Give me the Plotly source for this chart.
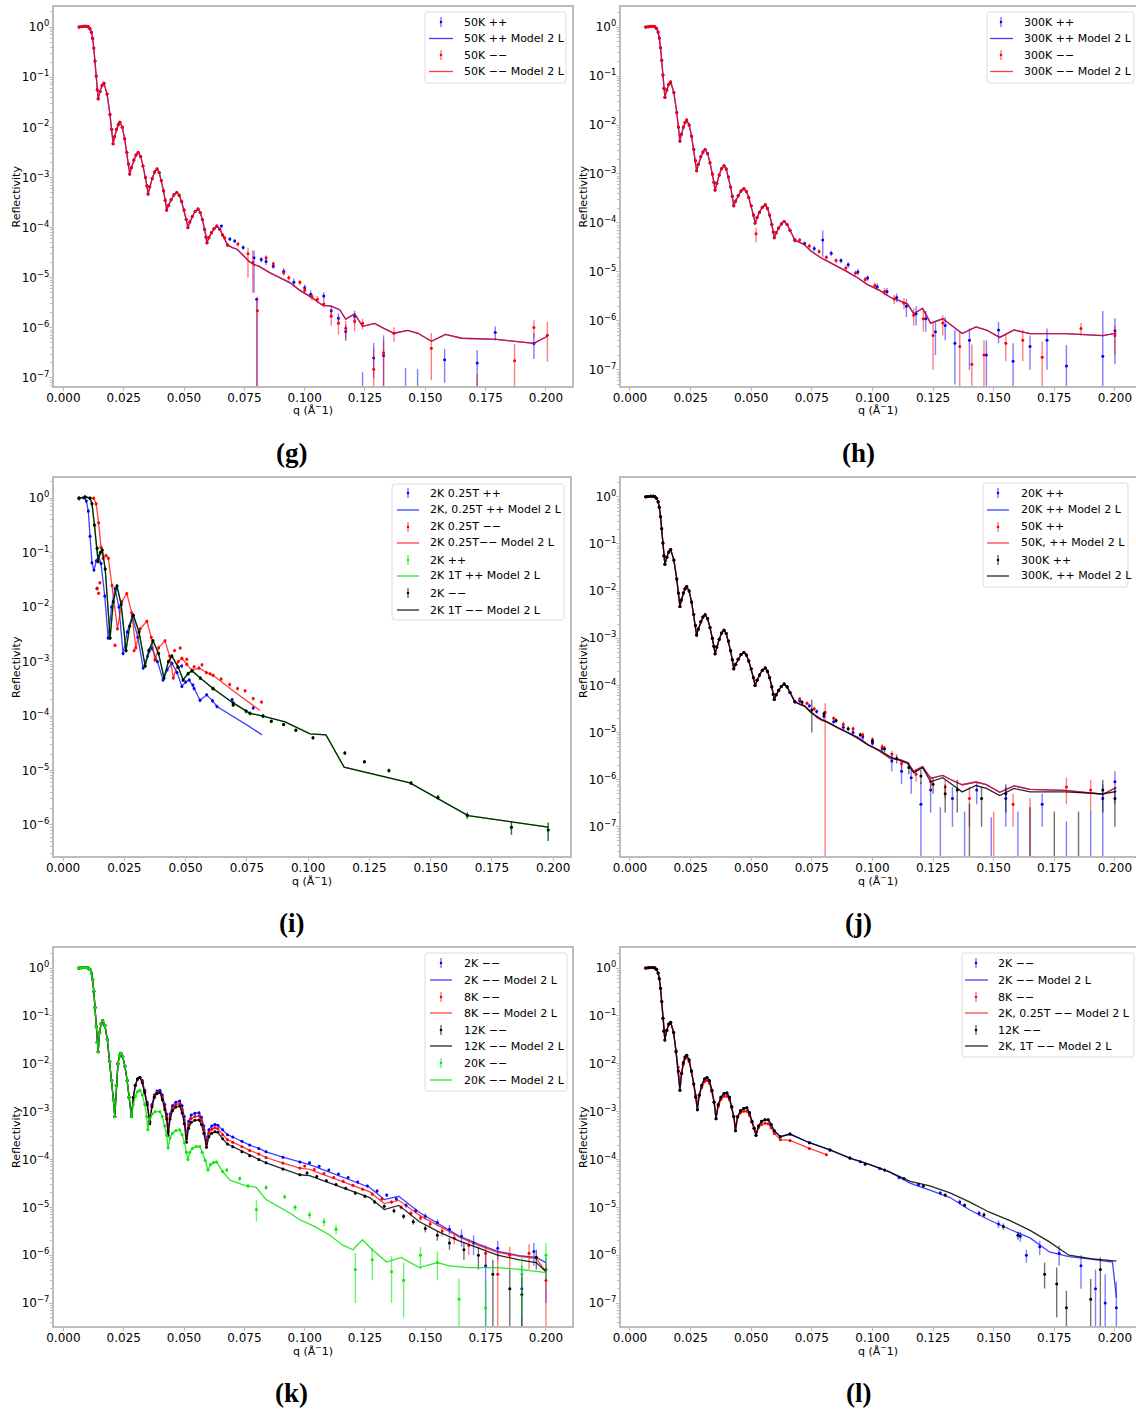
import plotly.graph_objects as go

W, H = 1136, 1410

# ----------------------------------------------------------------- (g) 50K  (also base of h, j)
q_fit = [0.0065, 0.0075, 0.0085, 0.0095, 0.0103, 0.0110, 0.0116, 0.0121, 0.0126, 0.0131,
         0.0136, 0.0140, 0.0144, 0.0152, 0.0160, 0.0168, 0.0181, 0.0193, 0.0200, 0.0206,
         0.0212, 0.0220, 0.0227, 0.0234, 0.0244, 0.0254, 0.0263, 0.0270, 0.0275, 0.0282,
         0.0292, 0.0301, 0.0310, 0.0320, 0.0330, 0.0340, 0.0346, 0.0351, 0.0358, 0.0368,
         0.0378, 0.0388, 0.0397, 0.0406, 0.0415, 0.0422, 0.0428, 0.0436, 0.0446, 0.0458,
         0.0470, 0.0480, 0.0490, 0.0500, 0.0509, 0.0516, 0.0524, 0.0534, 0.0546, 0.0558,
         0.0567, 0.0576, 0.0585, 0.0591, 0.0595, 0.0603, 0.0613, 0.0624, 0.0636, 0.0648,
         0.0660, 0.0680, 0.0700, 0.0720, 0.0745, 0.0770, 0.0790, 0.0810,
         0.0855, 0.0897, 0.0940, 0.0980, 0.1030, 0.1075, 0.1110, 0.1145, 0.1170, 0.1207,
         0.1240, 0.1290, 0.1320, 0.1370, 0.1427, 0.1470, 0.1525, 0.1584, 0.1650, 0.1795,
         0.1950, 0.2006]
g_fit = [1.0, 1.02, 1.035, 1.035, 1.01, 0.93, 0.79, 0.60, 0.38, 0.21,
         0.105, 0.056, 0.037, 0.052, 0.068, 0.076, 0.046, 0.018, 0.0091, 0.0047,
         0.0065, 0.0091, 0.0112, 0.0126, 0.0100, 0.0059, 0.0032, 0.00186, 0.00117, 0.00158,
         0.00224, 0.00282, 0.00316, 0.00263, 0.0017, 0.0010, 6.8e-4, 4.7e-4, 6.5e-4, 9.5e-4,
         1.29e-3, 1.48e-3, 1.26e-3, 8.7e-4, 5.4e-4, 3.5e-4, 2.24e-4, 2.8e-4, 3.6e-4, 4.5e-4,
         5.0e-4, 4.4e-4, 3.3e-4, 2.24e-4, 1.45e-4, 1.0e-4, 1.29e-4, 1.66e-4, 2.1e-4, 2.34e-4,
         2.0e-4, 1.45e-4, 9.3e-5, 6.5e-5, 5.0e-5, 6.3e-5, 7.9e-5, 9.5e-5, 1.07e-4, 9.3e-5,
         7.1e-5, 4.5e-5, 4.0e-5, 3.7e-5, 2.8e-5, 2.1e-5, 1.82e-5, 1.7e-5,
         1.26e-5, 1.0e-5, 7.9e-6, 5.6e-6, 4.0e-6, 2.8e-6, 2.7e-6, 2.3e-6, 1.5e-6, 1.9e-6,
         1.07e-6, 1.23e-6, 1.02e-6, 7.8e-7, 8.9e-7, 7.8e-7, 5.4e-7, 7.4e-7, 6.2e-7, 5.9e-7,
         4.9e-7, 6.8e-7]

g_q_pp_hi = [0.0655, 0.069, 0.071, 0.0745, 0.079, 0.0801, 0.082, 0.084, 0.087, 0.0913,
             0.0955, 0.100, 0.1025, 0.1079, 0.111, 0.114, 0.117, 0.1207, 0.124, 0.1286,
             0.1327, 0.1418, 0.1468, 0.158, 0.1715, 0.179, 0.195]
g_R_pp_hi = [1.07e-4, 5.9e-5, 5.4e-5, 4.0e-5, 2.5e-5, 3.7e-6, 2.3e-5, 2.1e-5, 1.7e-5, 1.35e-5,
             8.1e-6, 6.3e-6, 4.7e-6, 4.3e-6, 2.2e-6, 1.55e-6, 8.5e-7, 1.7e-6, 5e-8, 2.5e-7,
             2.8e-7, 5e-8, 5e-8, 2.3e-7, 2.0e-7, 8.1e-7, 4.9e-7]
g_up_pp_hi = [8e-6, 5e-6, 5e-6, 4e-6, 1.0e-5, 0, 3e-6, 3e-6, 2e-6, 2e-6,
              1.5e-6, 1e-6, 8e-7, 8e-7, 5e-7, 4e-7, 3e-7, 5e-7, 8e-8, 2.5e-7,
              4.3e-7, 1.1e-7, 1.0e-7, 1.5e-7, 1.6e-7, 2.5e-7, 3e-7]
g_dn_pp_hi = [8e-6, 5e-6, 5e-6, 4e-6, 2.0e-5, 3.69e-6, 3e-6, 3e-6, 2e-6, 2e-6,
              1.5e-6, 1e-6, 8e-7, 8e-7, 5e-7, 4e-7, 3e-7, 5e-7, 4.9e-8, 1.5e-7,
              2.79e-7, 4.9e-8, 4.9e-8, 1.5e-7, 1.5e-7, 2.5e-7, 2.5e-7]

g_q_mm_hi = [0.0668, 0.0723, 0.0765, 0.0785, 0.0804, 0.084, 0.087, 0.0913, 0.0934, 0.098,
             0.100, 0.103, 0.1053, 0.1079, 0.111, 0.114, 0.117, 0.1207, 0.124, 0.1286,
             0.1327, 0.137, 0.1525, 0.1715, 0.187, 0.195, 0.2006]
g_R_mm_hi = [6.3e-5, 4.7e-5, 3.0e-5, 2.0e-5, 2.2e-6, 2.5e-5, 1.9e-5, 1.26e-5, 1.0e-5, 8.1e-6,
             5.6e-6, 4.2e-6, 3.7e-6, 3.0e-6, 1.7e-6, 1.23e-6, 9.8e-7, 1.35e-6, 1.23e-6, 1.5e-7,
             3.2e-7, 7.8e-7, 3.9e-7, 5e-8, 2.2e-7, 1.02e-6, 7.1e-7]
g_up_mm_hi = [6e-6, 5e-6, 1.0e-5, 1.5e-5, 2e-6, 3e-6, 2e-6, 1.5e-6, 1.2e-6, 1e-6,
              8e-7, 7e-7, 6e-7, 5e-7, 6e-7, 5e-7, 4e-7, 5e-7, 3e-7, 2.4e-7,
              2.4e-7, 2.5e-7, 4e-7, 7e-8, 2.5e-7, 4e-7, 6e-7]
g_dn_mm_hi = [6e-6, 5e-6, 2.0e-5, 1.5e-5, 2.19e-6, 3e-6, 2e-6, 1.5e-6, 1.2e-6, 1e-6,
              8e-7, 7e-7, 6e-7, 5e-7, 6e-7, 5e-7, 4e-7, 5e-7, 3e-7, 1.49e-7,
              3.19e-7, 2.5e-7, 3e-7, 4.9e-8, 2.19e-7, 4e-7, 5e-7]

# ----------------------------------------------------------------- (h) 300K
h_fit = g_fit[:73] + [3.6e-5, 2.7e-5, 2.2e-5, 1.9e-5, 1.7e-5,
                      1.3e-5, 1.0e-5, 7.5e-6, 5.5e-6, 4.2e-6, 3.0e-6, 2.6e-6, 2.2e-6, 1.4e-6, 1.8e-6,
                      9.0e-7, 1.1e-6, 8.5e-7, 5.5e-7, 7.5e-7, 6.5e-7, 4.6e-7, 6.5e-7, 5.5e-7, 5.5e-7,
                      5.0e-7, 5.6e-7]

h_q_pp_hi = [0.068, 0.072, 0.076, 0.0795, 0.083, 0.087, 0.090, 0.094, 0.098, 0.102,
             0.106, 0.110, 0.114, 0.118, 0.122, 0.126, 0.130, 0.134, 0.140, 0.147,
             0.152, 0.158, 0.165, 0.172, 0.180, 0.195, 0.200]
h_R_pp_hi = [4.5e-5, 3.8e-5, 3.0e-5, 4.5e-5, 2.4e-5, 1.7e-5, 1.4e-5, 1.0e-5, 7.5e-6, 5.0e-6,
             4.0e-6, 3.0e-6, 2.0e-6, 1.4e-6, 1.1e-6, 6e-7, 8e-7, 3.5e-7, 4e-7, 2e-7,
             6.5e-7, 1.5e-7, 3e-7, 4e-7, 1.2e-7, 1.9e-7, 6.3e-7]
h_up_pp_hi = [5e-6, 4e-6, 4e-6, 2.5e-5, 3e-6, 2e-6, 2e-6, 1.5e-6, 1e-6, 8e-7,
              7e-7, 6e-7, 8e-7, 6e-7, 5e-7, 4e-7, 4e-7, 3e-7, 3e-7, 2e-7,
              3e-7, 2e-7, 2e-7, 3e-7, 2e-7, 1.4e-6, 5e-7]
h_dn_pp_hi = [5e-6, 4e-6, 4e-6, 2.5e-5, 3e-6, 2e-6, 2e-6, 1.5e-6, 1e-6, 8e-7,
              7e-7, 6e-7, 8e-7, 6e-7, 5e-7, 4e-7, 4e-7, 3e-7, 3e-7, 1.99e-7,
              3e-7, 1.49e-7, 2e-7, 3e-7, 1.19e-7, 1.89e-7, 5e-7]

h_q_mm_hi = [0.052, 0.070, 0.074, 0.078, 0.081, 0.085, 0.089, 0.093, 0.097, 0.101,
             0.105, 0.109, 0.113, 0.117, 0.121, 0.125, 0.129, 0.136, 0.141, 0.146,
             0.155, 0.162, 0.170, 0.186, 0.200]
h_R_mm_hi = [6e-5, 4.5e-5, 3.4e-5, 2.6e-5, 2.0e-5, 1.7e-5, 1.2e-5, 9.5e-6, 7e-6, 5.3e-6,
             4e-6, 2.8e-6, 2.3e-6, 1.3e-6, 1.1e-6, 5e-7, 9e-7, 3e-7, 1.3e-7, 2e-7,
             3.5e-7, 4e-7, 1.8e-7, 7e-7, 5e-7]
h_up_mm_hi = [2e-5, 5e-6, 4e-6, 3e-6, 2e-6, 2e-6, 1.5e-6, 1.2e-6, 1e-6, 8e-7,
              7e-7, 6e-7, 6e-7, 5e-7, 5e-7, 4e-7, 4e-7, 3e-7, 2e-7, 2e-7,
              2e-7, 2.5e-7, 2e-7, 2e-7, 3e-7]
h_dn_mm_hi = [2e-5, 5e-6, 4e-6, 3e-6, 2e-6, 2e-6, 1.5e-6, 1.2e-6, 1e-6, 8e-7,
              7e-7, 6e-7, 6e-7, 5e-7, 5e-7, 4e-7, 4e-7, 2.99e-7, 1.29e-7, 1.99e-7,
              2e-7, 2.5e-7, 1.79e-7, 2e-7, 3e-7]

# ----------------------------------------------------------------- (i) 2K fields
i_q_fit_b = [0.0065, 0.0085, 0.0095, 0.0103, 0.0110, 0.0118, 0.0126, 0.0136, 0.0145, 0.0155,
             0.0170, 0.0184, 0.0198, 0.0212, 0.0228, 0.0245, 0.0262, 0.0282, 0.0305, 0.0327,
             0.0345, 0.0362, 0.0385, 0.0408, 0.0425, 0.0444, 0.0465, 0.0485, 0.0500, 0.0515,
             0.0535, 0.0559, 0.0586, 0.0610, 0.0628, 0.0694, 0.0756, 0.0812]
i_fit_b = [1.0, 1.02, 0.89, 0.58, 0.20, 0.065, 0.048, 0.071, 0.087, 0.063,
           0.016, 0.0027, 0.010, 0.022, 0.010, 0.0014, 0.0035, 0.0069, 0.0028, 7.6e-4,
           1.26e-3, 1.78e-3, 1.0e-3, 4.6e-4, 7.1e-4, 9.3e-4, 6.3e-4, 3.5e-4, 4.2e-4, 4.6e-4,
           3.2e-4, 1.95e-4, 2.45e-4, 1.9e-4, 1.5e-4, 1.0e-4, 6.6e-5, 4.5e-5]

i_q_fit_r = [0.0065, 0.0090, 0.0125, 0.0135, 0.0145, 0.0155, 0.0163, 0.0175, 0.0185, 0.0200,
             0.0222, 0.0240, 0.0260, 0.0280, 0.0297, 0.0315, 0.0342, 0.0360, 0.0375, 0.0390,
             0.0416, 0.0435, 0.0450, 0.0470, 0.0485, 0.0505, 0.0526, 0.0555, 0.0585, 0.0612,
             0.0694, 0.0804]
i_fit_r = [1.0, 1.05, 1.0, 0.79, 0.355, 0.126, 0.079, 0.089, 0.079, 0.025,
           0.004, 0.0126, 0.0178, 0.0079, 0.0018, 0.004, 0.0055, 0.0028, 0.00107, 0.0018,
           0.0024, 0.00126, 5.0e-4, 1.0e-3, 1.15e-3, 8.9e-4, 6.9e-4, 7.6e-4, 6.3e-4, 5.6e-4,
           2.9e-4, 1.26e-4]

i_q_fit_k = [0.0065, 0.0090, 0.0110, 0.0118, 0.0128, 0.0139, 0.0143, 0.0152, 0.0160, 0.0172,
             0.0192, 0.0205, 0.0220, 0.0237, 0.0257, 0.0272, 0.0287, 0.0310, 0.0335, 0.0350,
             0.0367, 0.0390, 0.0412, 0.0430, 0.0444, 0.0470, 0.0490, 0.0510, 0.0526, 0.0560,
             0.0612, 0.0694, 0.0763, 0.0816, 0.0906, 0.1008, 0.1073, 0.1147, 0.1416, 0.1653,
             0.1980]
i_fit_k = [1.0, 1.05, 1.0, 0.79, 0.32, 0.12, 0.069, 0.10, 0.112, 0.050,
           0.0027, 0.0126, 0.0245, 0.0112, 0.0016, 0.0045, 0.0071, 0.0035, 8.3e-4, 1.6e-3,
           2.4e-3, 1.4e-3, 5.0e-4, 1.0e-3, 1.26e-3, 7.9e-4, 4.6e-4, 6.0e-4, 6.8e-4, 5.0e-4,
           3.2e-4, 1.74e-4, 1.12e-4, 1.0e-4, 7.8e-5, 4.7e-5, 4.5e-5, 1.15e-5, 5.9e-6, 1.48e-6,
           9.1e-7]
i_fit_g = i_fit_k

i_q_b_hi = [0.0138, 0.0484, 0.053, 0.0612, 0.069, 0.0776, 0.0816]
i_R_b_hi = [0.022, 8.3e-4, 3.7e-4, 3.2e-4, 2.0e-4, 1.4e-4, 1.0e-4]

i_q_r_hi = [0.0140, 0.0145, 0.0150, 0.0212, 0.029, 0.0376, 0.0455, 0.0478, 0.0505, 0.0535,
            0.0567, 0.0600, 0.0645, 0.0680, 0.0712, 0.0743, 0.0776, 0.0810]
i_R_r_hi = [0.022, 0.018, 0.028, 0.002, 0.0016, 0.0011, 1.6e-3, 1.78e-3, 1.1e-3, 8e-4,
            8.7e-4, 6e-4, 4.8e-4, 3.8e-4, 3.2e-4, 2.9e-4, 2.1e-4, 1.8e-4]

i_q_k_hi = [0.0694, 0.0747, 0.085, 0.090, 0.095, 0.102, 0.115, 0.123, 0.133, 0.142,
            0.153, 0.165, 0.183, 0.198]
i_R_k_hi = [1.6e-4, 1.23e-4, 8e-5, 7e-5, 5.5e-5, 4.0e-5, 2.1e-5, 1.45e-5, 1.0e-5, 5.9e-6,
            3.2e-6, 1.5e-6, 9.1e-7, 8.1e-7]
i_err_k_hi = [1.2e-5, 1e-5, 6e-6, 5e-6, 4e-6, 3e-6, 1.5e-6, 1e-6, 8e-7, 5e-7,
              3e-7, 2e-7, 2.5e-7, 3e-7]

# ----------------------------------------------------------------- (j) ++ temperatures
j_fit_b = g_fit
j_fit_r = g_fit
j_fit_k = h_fit

j_q_b_hi = [0.070, 0.074, 0.077, 0.080, 0.084, 0.088, 0.092, 0.096, 0.100, 0.104,
            0.108, 0.112, 0.116, 0.120, 0.124, 0.128, 0.133, 0.138, 0.143, 0.149,
            0.155, 0.160, 0.170, 0.180, 0.190, 0.195, 0.200]
j_R_b_hi = [4.7e-5, 3.7e-5, 2.8e-5, 2.2e-5, 1.7e-5, 1.3e-5, 1.0e-5, 8e-6, 6e-6, 4.5e-6,
            2.5e-6, 1.5e-6, 1.1e-6, 3e-7, 6e-7, 1e-8, 4e-7, 1e-8, 6e-7, 1e-8,
            4e-7, 1e-8, 3e-7, 1e-8, 1e-8, 4e-7, 9e-7]
j_up_b_hi = [5e-6, 4e-6, 3e-6, 3e-6, 2e-6, 2e-6, 1.5e-6, 1.2e-6, 1e-6, 8e-7,
             1e-6, 7e-7, 6e-7, 6e-7, 4e-7, 2.5e-7, 3e-7, 2e-7, 3e-7, 1.5e-7,
             3e-7, 2e-7, 2e-7, 1.2e-7, 2e-7, 4e-7, 6e-7]
j_dn_b_hi = [5e-6, 4e-6, 3e-6, 3e-6, 2e-6, 2e-6, 1.5e-6, 1.2e-6, 1e-6, 8e-7,
             1e-6, 7e-7, 6e-7, 2.99e-7, 4e-7, 9e-9, 3e-7, 9e-9, 3e-7, 9e-9,
             3e-7, 9e-9, 2e-7, 9e-9, 9e-9, 3.99e-7, 6e-7]

j_q_r_hi = [0.070, 0.073, 0.076, 0.0805, 0.084, 0.088, 0.092, 0.096, 0.100, 0.104,
            0.108, 0.112, 0.118, 0.124, 0.130, 0.140, 0.150, 0.158, 0.165, 0.180,
            0.190]
j_R_r_hi = [5.2e-5, 4.2e-5, 3.2e-5, 2.7e-5, 2.0e-5, 1.5e-5, 1.2e-5, 9e-6, 7e-6, 5e-6,
            3.5e-6, 2.2e-6, 1.3e-6, 9e-7, 7e-7, 4e-7, 1e-8, 3e-7, 1e-8, 7e-7,
            6e-7]
j_up_r_hi = [5e-6, 4e-6, 3e-6, 1.5e-5, 2e-6, 2e-6, 1.5e-6, 1e-6, 1e-6, 8e-7,
             6e-7, 5e-7, 4e-7, 3e-7, 3e-7, 3e-7, 2e-7, 2e-7, 4e-7, 4e-7,
             4e-7]
j_dn_r_hi = [5e-6, 4e-6, 3e-6, 2.699e-5, 2e-6, 2e-6, 1.5e-6, 1e-6, 1e-6, 8e-7,
             6e-7, 5e-7, 4e-7, 3e-7, 3e-7, 3e-7, 9e-9, 2e-7, 9e-9, 4e-7,
             4e-7]

j_q_k_hi = [0.071, 0.075, 0.080, 0.085, 0.090, 0.095, 0.100, 0.105, 0.110, 0.115,
            0.120, 0.125, 0.130, 0.135, 0.140, 0.145, 0.155, 0.165, 0.175, 0.185,
            0.195, 0.200]
j_R_k_hi = [4.4e-5, 3.0e-5, 2.5e-5, 1.8e-5, 1.2e-5, 9e-6, 6.5e-6, 4.5e-6, 2.8e-6, 1.8e-6,
            1.2e-6, 8e-7, 5e-7, 6e-7, 1e-8, 4e-7, 5e-7, 1e-8, 1e-8, 1e-8,
            6e-7, 4e-7]
j_up_k_hi = [5e-6, 2e-5, 3e-6, 2e-6, 1.5e-6, 1e-6, 1e-6, 7e-7, 6e-7, 5e-7,
             4e-7, 3e-7, 3e-7, 4e-7, 3e-7, 3e-7, 3e-7, 2.5e-7, 2e-7, 2e-7,
             4e-7, 3e-7]
j_dn_k_hi = [5e-6, 2e-5, 3e-6, 2e-6, 1.5e-6, 1e-6, 1e-6, 7e-7, 6e-7, 5e-7,
             4e-7, 3e-7, 3e-7, 4e-7, 9e-9, 3e-7, 3e-7, 9e-9, 9e-9, 9e-9,
             4e-7, 3e-7]

# ----------------------------------------------------------------- (k) -- temperatures
k_q_fit = [0.0065, 0.0075, 0.0085, 0.0095, 0.0103, 0.0110, 0.0116, 0.0121, 0.0126, 0.0131,
           0.0136, 0.0140, 0.0144, 0.0150, 0.0156, 0.0163, 0.0172, 0.0182, 0.0192, 0.0200,
           0.0207, 0.0213, 0.0219, 0.0226, 0.0232, 0.0238, 0.0246, 0.0255, 0.0264, 0.0272,
           0.0282, 0.0290, 0.0298, 0.0307, 0.0317, 0.0327, 0.0337, 0.0347, 0.0358, 0.0367,
           0.0377, 0.0388, 0.0400, 0.0410, 0.0420, 0.0428, 0.0434, 0.0442, 0.0452, 0.0466,
           0.0482, 0.0492, 0.0501, 0.0510, 0.0519, 0.0530, 0.0545, 0.0562, 0.0572, 0.0582,
           0.0593, 0.0603, 0.0615, 0.0628, 0.0640, 0.0660, 0.0680, 0.0702, 0.0740, 0.0772,
           0.0810, 0.0840, 0.0910, 0.0980,
           0.102, 0.110, 0.119, 0.127, 0.133, 0.139, 0.1476, 0.156, 0.164, 0.172,
           0.180, 0.189, 0.196, 0.200]
k_fit_b = [1.0, 1.02, 1.035, 1.035, 1.01, 0.93, 0.79, 0.575, 0.33, 0.151,
           0.060, 0.028, 0.0178, 0.045, 0.068, 0.079, 0.063, 0.032, 0.0112, 0.0045,
           0.00178, 7.9e-4, 0.00355, 0.010, 0.0145, 0.0166, 0.0141, 0.0089, 0.0045, 0.0020,
           7.9e-4, 0.0020, 0.00355, 0.0048, 0.0052, 0.0045, 0.0028, 0.00158, 6.3e-4, 0.00141,
           0.00224, 0.0027, 0.0028, 0.00224, 0.00141, 8.9e-4, 4.0e-4, 8.9e-4, 0.00132, 0.00158,
           0.00166, 0.00132, 7.9e-4, 3.2e-4, 6.3e-4, 8.5e-4, 9.3e-4, 9.5e-4, 7.6e-4, 5.0e-4,
           2.5e-4, 4.2e-4, 5.0e-4, 5.4e-4, 5.2e-4, 4.2e-4, 3.3e-4, 2.95e-4, 2.4e-4, 2.0e-4,
           1.7e-4, 1.45e-4, 1.12e-4, 8.9e-5,
           7.8e-5, 5.5e-5, 3.7e-5, 2.6e-5, 1.45e-5, 1.7e-5, 7.8e-6, 4.3e-6, 2.5e-6, 1.7e-6,
           1.2e-6, 9.8e-7, 9e-7, 7e-7]
k_fit_r = k_fit_b[:35] + [0.0042, 0.0026, 0.00147, 5.9e-4, 0.00132, 0.0021, 0.0025, 0.0026,
                          0.002, 0.00126, 7.9e-4, 3.6e-4, 7.9e-4, 0.00118, 0.00141, 0.00148,
                          0.00112, 6.7e-4, 2.7e-4, 5.4e-4, 7.2e-4, 7.9e-4, 8.1e-4, 6.5e-4, 4.3e-4,
                          2.1e-4, 3.6e-4, 4.3e-4, 4.6e-4, 4.4e-4,
                          3.3e-4, 2.6e-4, 2.3e-4, 1.85e-4, 1.55e-4, 1.3e-4, 1.1e-4, 8.4e-5, 6.6e-5,
                          6.2e-5, 4.4e-5, 2.9e-5, 2.1e-5, 1.2e-5, 1.4e-5, 6.8e-6, 4e-6, 2.4e-6,
                          1.6e-6, 1.15e-6, 9.5e-7, 8.5e-7, 4.5e-7]
k_fit_k = k_fit_b[:35] + [0.004, 0.0025, 0.0014, 5.6e-4, 0.00126, 0.002, 0.0024, 0.0025,
                          0.00177, 0.00111, 7.0e-4, 3.2e-4, 7.0e-4, 0.00104, 0.00125, 0.00131,
                          9.4e-4, 5.6e-4, 2.3e-4, 4.5e-4, 6.0e-4, 6.6e-4, 6.7e-4, 5.4e-4, 3.55e-4,
                          1.8e-4, 3.0e-4, 3.55e-4, 3.8e-4, 3.7e-4,
                          2.7e-4, 2.1e-4, 1.85e-4, 1.45e-4, 1.2e-4, 1.0e-4, 8.5e-5, 6.3e-5, 4.8e-5,
                          4.6e-5, 3.3e-5, 2.2e-5, 1.6e-5, 9e-6, 1.1e-5, 5e-6, 3e-6, 2e-6,
                          1.4e-6, 1.0e-6, 8e-7, 7e-7, 4.5e-7]
k_q_fit_g = k_q_fit[:31] + [0.0290, 0.0298, 0.0307, 0.0317, 0.0327, 0.0337, 0.0345, 0.0350, 0.0358,
                            0.0368, 0.0380, 0.0400, 0.0410, 0.0420, 0.0428, 0.0434, 0.0442, 0.0452,
                            0.0466, 0.0482, 0.0492, 0.0502, 0.0510, 0.0516, 0.0524, 0.0535, 0.0550,
                            0.0565, 0.0575, 0.0588, 0.0599, 0.0610, 0.0622, 0.0635, 0.0660, 0.0690,
                            0.0745, 0.0800, 0.0840, 0.0938, 0.0980,
                            0.104, 0.110, 0.116, 0.120, 0.124, 0.128, 0.134, 0.140, 0.1475, 0.155,
                            0.160, 0.168, 0.180, 0.190, 0.200]
k_fit_g = k_fit_b[:31] + [0.00141, 0.0021, 0.0026, 0.0028, 0.00224, 0.00141, 7.9e-4, 4.2e-4, 7.1e-4,
                          8.9e-4, 1.0e-3, 1.0e-3, 7.9e-4, 5.0e-4, 3.2e-4, 1.74e-4, 2.8e-4, 3.55e-4,
                          4.0e-4, 4.2e-4, 3.3e-4, 2.24e-4, 1.41e-4, 1.0e-4, 1.41e-4, 1.7e-4, 1.86e-4,
                          1.86e-4, 1.41e-4, 9.5e-5, 6.0e-5, 7.9e-5, 8.7e-5, 8.9e-5, 5.6e-5, 3.7e-5,
                          2.95e-5, 2.6e-5, 1.45e-5, 7.6e-6, 5.5e-6,
                          4.0e-6, 2.7e-6, 1.6e-6, 1.3e-6, 2.1e-6, 1.3e-6, 7.2e-7, 9e-7, 5.5e-7, 7e-7,
                          6e-7, 5.5e-7, 5.5e-7, 5e-7, 4.3e-7]

k_q_b_hi = [0.102, 0.106, 0.110, 0.114, 0.118, 0.122, 0.126, 0.130, 0.134, 0.138,
            0.142, 0.146, 0.150, 0.155, 0.160, 0.165, 0.170, 0.175, 0.180, 0.190,
            0.195, 0.200]
k_R_b_hi = [8.5e-5, 7.2e-5, 6.0e-5, 5.0e-5, 4.2e-5, 3.4e-5, 2.8e-5, 2.2e-5, 1.8e-5, 1.5e-5,
            1.1e-5, 8.5e-6, 6.5e-6, 4.8e-6, 3.5e-6, 2.5e-6, 1.8e-6, 6e-7, 1.4e-6, 2e-7,
            1.2e-6, 5e-7]
k_up_b_hi = [5e-6, 4e-6, 4e-6, 3e-6, 3e-6, 2.5e-6, 2e-6, 2e-6, 1.5e-6, 1.5e-6,
             1.2e-6, 1e-6, 1e-6, 8e-7, 8e-7, 1e-6, 8e-7, 6e-7, 6e-7, 4e-7,
             6e-7, 4e-7]
k_dn_b_hi = [5e-6, 4e-6, 4e-6, 3e-6, 3e-6, 2.5e-6, 2e-6, 2e-6, 1.5e-6, 1.5e-6,
             1.2e-6, 1e-6, 1e-6, 8e-7, 8e-7, 1e-6, 8e-7, 5.99e-7, 6e-7, 1.99e-7,
             6e-7, 4e-7]

k_q_r_hi = [0.100, 0.104, 0.108, 0.112, 0.116, 0.120, 0.124, 0.128, 0.132, 0.136,
            0.140, 0.144, 0.148, 0.152, 0.157, 0.162, 0.168, 0.175, 0.180, 0.185,
            0.193, 0.200]
k_R_r_hi = [7.3e-5, 6.2e-5, 5.1e-5, 4.2e-5, 3.5e-5, 2.9e-5, 2.4e-5, 1.9e-5, 1.5e-5, 1.3e-5,
            1.0e-5, 7.5e-6, 6e-6, 4.5e-6, 3.2e-6, 2.3e-6, 1.6e-6, 1.1e-6, 4e-7, 1e-6,
            1.1e-6, 3e-7]
k_up_r_hi = [5e-6, 4e-6, 3e-6, 3e-6, 2.5e-6, 2e-6, 2e-6, 1.5e-6, 1.5e-6, 1.2e-6,
             1e-6, 1e-6, 8e-7, 8e-7, 7e-7, 6e-7, 6e-7, 5e-7, 8e-7, 5e-7,
             6e-7, 4e-7]
k_dn_r_hi = [5e-6, 4e-6, 3e-6, 3e-6, 2.5e-6, 2e-6, 2e-6, 1.5e-6, 1.5e-6, 1.2e-6,
             1e-6, 1e-6, 8e-7, 8e-7, 7e-7, 6e-7, 6e-7, 5e-7, 3.99e-7, 5e-7,
             6e-7, 2.99e-7]

k_q_k_hi = [0.101, 0.105, 0.109, 0.113, 0.117, 0.121, 0.125, 0.129, 0.133, 0.137,
            0.141, 0.145, 0.150, 0.155, 0.160, 0.166, 0.172, 0.178, 0.185, 0.190,
            0.196]
k_R_k_hi = [5.2e-5, 4.4e-5, 3.6e-5, 3.0e-5, 2.5e-5, 2.0e-5, 1.7e-5, 1.3e-5, 1.05e-5, 8.5e-6,
            6.5e-6, 5e-6, 3.6e-6, 2.6e-6, 1.8e-6, 1.3e-6, 1.0e-6, 4e-7, 2e-7, 1.5e-7,
            9e-7]
k_up_k_hi = [4e-6, 3e-6, 3e-6, 2.5e-6, 2e-6, 2e-6, 1.5e-6, 1.2e-6, 1e-6, 1e-6,
             8e-7, 7e-7, 6e-7, 6e-7, 5e-7, 5e-7, 5e-7, 4e-7, 3e-7, 2e-7,
             4e-7]
k_dn_k_hi = [4e-6, 3e-6, 3e-6, 2.5e-6, 2e-6, 2e-6, 1.5e-6, 1.2e-6, 1e-6, 1e-6,
             8e-7, 7e-7, 6e-7, 6e-7, 5e-7, 5e-7, 5e-7, 3.99e-7, 1.99e-7, 1.49e-7,
             4e-7]

k_q_g_hi = [0.0677, 0.0731, 0.0765, 0.080, 0.084, 0.0917, 0.096, 0.102, 0.108, 0.113,
            0.121, 0.128, 0.136, 0.141, 0.148, 0.155, 0.164, 0.175, 0.190, 0.200]
k_R_g_hi = [6.0e-5, 4.0e-5, 2.8e-5, 9e-6, 2.6e-5, 1.66e-5, 1.0e-5, 7e-6, 5e-6, 3.5e-6,
            5e-7, 8e-7, 4.5e-7, 3e-7, 1e-6, 7e-7, 1.2e-7, 8e-8, 4e-7, 1e-6]
k_up_g_hi = [6e-6, 4e-6, 3e-6, 5e-6, 3e-6, 2e-6, 1.5e-6, 1.2e-6, 1e-6, 8e-7,
             6e-7, 6e-7, 5e-7, 4e-7, 5e-7, 5e-7, 2e-7, 2e-7, 5e-7, 8e-7]
k_dn_g_hi = [6e-6, 4e-6, 3e-6, 4e-6, 3e-6, 2e-6, 1.5e-6, 1.2e-6, 1e-6, 8e-7,
             4e-7, 5e-7, 3.5e-7, 2.5e-7, 5e-7, 4e-7, 1.1e-7, 7e-8, 3.5e-7, 7e-7]

# ----------------------------------------------------------------- (l) 2K --
l_q_fit = [0.0065, 0.0075, 0.0085, 0.0095, 0.0103, 0.0110, 0.0116, 0.0121, 0.0126, 0.0131,
           0.0136, 0.0140, 0.0144, 0.0152, 0.0160, 0.0168, 0.0180, 0.0190, 0.0199, 0.0206,
           0.0213, 0.0220, 0.0227, 0.0234, 0.0244, 0.0254, 0.0263, 0.0271, 0.0278, 0.0286,
           0.0296, 0.0307, 0.0318, 0.0328, 0.0338, 0.0347, 0.0355, 0.0364, 0.0375, 0.0388,
           0.0400, 0.0410, 0.0420, 0.0428, 0.0435, 0.0444, 0.0456, 0.0469, 0.0482, 0.0493,
           0.0503, 0.0512, 0.0520, 0.0530, 0.0543, 0.0557, 0.0570, 0.0582, 0.0595, 0.0620,
           0.0660, 0.0740, 0.0825, 0.0907, 0.0990, 0.1070,
           0.1155, 0.1237, 0.132, 0.140, 0.148, 0.157, 0.165, 0.173, 0.181, 0.190,
           0.199, 0.2006]
l_fit_b = [1.0, 1.02, 1.035, 1.035, 1.01, 0.93, 0.79, 0.60, 0.38, 0.20,
           0.089, 0.048, 0.0316, 0.050, 0.068, 0.074, 0.045, 0.0178, 0.0071, 0.0028,
           0.0063, 0.0105, 0.0138, 0.0151, 0.012, 0.0071, 0.0038, 0.0020, 0.0011, 0.00224,
           0.00355, 0.0048, 0.0052, 0.0044, 0.0028, 0.00158, 7.1e-4, 0.00141, 0.002, 0.0024,
           0.00245, 0.002, 0.00126, 7.9e-4, 4.0e-4, 7.9e-4, 0.00105, 0.00117, 0.0012, 9.5e-4,
           6.3e-4, 4.5e-4, 3.2e-4, 5.0e-4, 6.3e-4, 6.8e-4, 6.8e-4, 5.4e-4, 4.0e-4, 3.0e-4,
           3.4e-4, 2.24e-4, 1.58e-4, 1.07e-4, 7.8e-5, 5.5e-5,
           3.2e-5, 2.3e-5, 1.6e-5, 8.9e-6, 5.5e-6, 3.4e-6, 2.3e-6, 1.17e-6, 9.3e-7, 8.3e-7,
           7.2e-7, 1.3e-7]
l_fit_k = l_fit_b[:66] + [3.5e-5, 2.8e-5, 2.0e-5, 1.3e-5, 8e-6, 5.2e-6, 3.3e-6, 1.9e-6,
                          1.0e-6, 8.5e-7, 7.5e-7, 7.5e-7]
l_q_fit_r = l_q_fit[:62] + [0.081]
l_fit_r = [1.0, 1.02, 1.035, 1.035, 1.01, 0.93, 0.79, 0.60, 0.38, 0.20, 0.089, 0.05,
           0.04,
           0.050, 0.066, 0.071, 0.045, 0.019, 0.0085,
           0.004,
           0.0065, 0.0098, 0.0128, 0.0138, 0.011, 0.0068, 0.0038, 0.0022,
           0.0015,
           0.0022, 0.0032, 0.0042, 0.0045, 0.0039, 0.0026, 0.0016,
           9e-4,
           0.0013, 0.0018, 0.0021, 0.0021, 0.0018, 0.0012, 8e-4,
           5e-4,
           7.5e-4, 9.5e-4, 1.02e-3, 1.02e-3, 8.3e-4, 6e-4, 4.6e-4,
           3.8e-4,
           4.6e-4, 5.4e-4, 5.7e-4, 5.6e-4, 4.6e-4, 3.5e-4,
           2.6e-4, 2.5e-4, 1.7e-4, 1.26e-4]

l_q_b_hi = [0.095, 0.103, 0.111, 0.119, 0.128, 0.136, 0.144, 0.152, 0.161, 0.1635,
            0.169, 0.177, 0.186, 0.192, 0.196, 0.2006]
l_R_b_hi = [9e-5, 6.5e-5, 4.2e-5, 3e-5, 2e-5, 1.3e-5, 7.5e-6, 4.5e-6, 2.5e-6, 1.0e-6,
            1.5e-6, 1.1e-6, 6e-7, 2e-7, 1e-7, 8e-8]
l_up_b_hi = [6e-6, 5e-6, 4e-6, 3e-6, 2e-6, 1.5e-6, 1e-6, 8e-7, 6e-7, 3e-7,
             5e-7, 5e-7, 4e-7, 3e-7, 3e-7, 2e-7]
l_dn_b_hi = [6e-6, 5e-6, 4e-6, 3e-6, 2e-6, 1.5e-6, 1e-6, 8e-7, 6e-7, 3e-7,
             5e-7, 5e-7, 4e-7, 1.99e-7, 9.9e-8, 7.9e-8]

l_q_k_hi = [0.097, 0.105, 0.113, 0.121, 0.130, 0.138, 0.146, 0.154, 0.160, 0.171,
            0.176, 0.180, 0.190, 0.194]
l_R_k_hi = [8e-5, 6e-5, 4e-5, 2.8e-5, 1.8e-5, 1.1e-5, 7e-6, 4e-6, 2.6e-6, 4e-7,
            2.5e-7, 8e-8, 1.2e-7, 5e-7]
l_up_k_hi = [5e-6, 4e-6, 3e-6, 2e-6, 1.5e-6, 1e-6, 8e-7, 6e-7, 5e-7, 3e-7,
             3e-7, 1e-7, 2e-7, 4e-7]
l_dn_k_hi = [5e-6, 4e-6, 3e-6, 2e-6, 1.5e-6, 1e-6, 8e-7, 6e-7, 5e-7, 2e-7,
             2e-7, 7.9e-8, 1.19e-7, 4.99e-7]

# ----------------------------------------------------------------- ticks / labels
x_ticks = [0.0, 0.025, 0.05, 0.075, 0.1, 0.125, 0.15, 0.175, 0.2]
x_ticktext = ["0.000", "0.025", "0.050", "0.075", "0.100", "0.125", "0.150", "0.175", "0.200"]
y_ticks = [1, 1e-1, 1e-2, 1e-3, 1e-4, 1e-5, 1e-6, 1e-7]
y_ticktext = ["10<sup>0</sup>", "10<sup>−1</sup>", "10<sup>−2</sup>", "10<sup>−3</sup>",
              "10<sup>−4</sup>", "10<sup>−5</sup>", "10<sup>−6</sup>", "10<sup>−7</sup>"]

# ----------------------------------------------------------------- figure
MCOL = {'b': '#0000ff', 'r': '#ff0000', 'g': '#00ee00', 'k': '#000000'}
ECOL = {'b': 'rgba(0,0,255,0.5)', 'r': 'rgba(255,0,0,0.5)', 'g': 'rgba(0,230,0,0.55)', 'k': 'rgba(0,0,0,0.55)'}
LCOL = {'b': 'rgba(0,0,255,0.75)', 'r': 'rgba(255,0,0,0.75)', 'g': 'rgba(0,230,0,0.85)', 'k': 'rgba(0,0,0,0.85)'}


def px(x):
    return x / W


def py(y):
    return 1 - y / H


fig = go.Figure()


def axn(i):
    return ('x' if i == 1 else f'x{i}'), ('y' if i == 1 else f'y{i}')


def add_fit(i, q, R, c):
    xa, ya = axn(i)
    fig.add_trace(go.Scatter(x=q, y=R, mode='lines', line=dict(color=LCOL[c], width=1.3),
                             xaxis=xa, yaxis=ya, showlegend=False, hoverinfo='skip'))


def add_data(i, q, R, c, up=None, dn=None, pct=None):
    xa, ya = axn(i)
    if pct is not None:
        err = dict(type='percent', value=pct, color=ECOL[c], thickness=1.4, width=0)
    else:
        err = dict(type='data', symmetric=False, array=up, arrayminus=dn,
                   color=ECOL[c], thickness=1.4, width=0)
    fig.add_trace(go.Scatter(x=q, y=R, mode='markers', marker=dict(color=MCOL[c], size=3),
                             error_y=err, xaxis=xa, yaxis=ya, showlegend=False, hoverinfo='skip'))


# (g)
add_data(1, q_fit[:72], g_fit[:72], 'b', pct=7)
add_data(1, g_q_pp_hi, g_R_pp_hi, 'b', g_up_pp_hi, g_dn_pp_hi)
add_fit(1, q_fit, g_fit, 'b')
add_data(1, q_fit[:72], g_fit[:72], 'r', pct=7)
add_data(1, g_q_mm_hi, g_R_mm_hi, 'r', g_up_mm_hi, g_dn_mm_hi)
add_fit(1, q_fit, g_fit, 'r')

# (h)
add_data(2, q_fit[:72], h_fit[:72], 'b', pct=7)
add_data(2, h_q_pp_hi, h_R_pp_hi, 'b', h_up_pp_hi, h_dn_pp_hi)
add_fit(2, q_fit, h_fit, 'b')
add_data(2, q_fit[:72], h_fit[:72], 'r', pct=7)
add_data(2, h_q_mm_hi, h_R_mm_hi, 'r', h_up_mm_hi, h_dn_mm_hi)
add_fit(2, q_fit, h_fit, 'r')

# (i)
add_data(3, i_q_fit_b[:35], i_fit_b[:35], 'b', pct=8)
add_data(3, i_q_b_hi, i_R_b_hi, 'b', pct=8)
add_fit(3, i_q_fit_b, i_fit_b, 'b')
add_data(3, i_q_fit_r[:30], i_fit_r[:30], 'r', pct=8)
add_data(3, i_q_r_hi, i_R_r_hi, 'r', pct=8)
add_fit(3, i_q_fit_r, i_fit_r, 'r')
add_data(3, i_q_fit_k[:34], i_fit_g[:34], 'g', pct=8)
add_data(3, i_q_k_hi, i_R_k_hi, 'g', i_err_k_hi, i_err_k_hi)
add_fit(3, i_q_fit_k, i_fit_g, 'g')
add_data(3, i_q_fit_k[:34], i_fit_k[:34], 'k', pct=8)
add_data(3, i_q_k_hi, i_R_k_hi, 'k', i_err_k_hi, i_err_k_hi)
add_fit(3, i_q_fit_k, i_fit_k, 'k')

# (j)
add_data(4, q_fit[:72], j_fit_b[:72], 'b', pct=7)
add_data(4, j_q_b_hi, j_R_b_hi, 'b', j_up_b_hi, j_dn_b_hi)
add_fit(4, q_fit, j_fit_b, 'b')
add_data(4, q_fit[:72], j_fit_r[:72], 'r', pct=7)
add_data(4, j_q_r_hi, j_R_r_hi, 'r', j_up_r_hi, j_dn_r_hi)
add_fit(4, q_fit, j_fit_r, 'r')
add_data(4, q_fit[:72], j_fit_k[:72], 'k', pct=7)
add_data(4, j_q_k_hi, j_R_k_hi, 'k', j_up_k_hi, j_dn_k_hi)
add_fit(4, q_fit, j_fit_k, 'k')

# (k)
add_data(5, k_q_fit[:74], k_fit_b[:74], 'b', pct=6)
add_data(5, k_q_b_hi, k_R_b_hi, 'b', k_up_b_hi, k_dn_b_hi)
add_fit(5, k_q_fit, k_fit_b, 'b')
add_data(5, k_q_fit[:74], k_fit_r[:74], 'r', pct=6)
add_data(5, k_q_r_hi, k_R_r_hi, 'r', k_up_r_hi, k_dn_r_hi)
add_fit(5, k_q_fit, k_fit_r, 'r')
add_data(5, k_q_fit[:74], k_fit_k[:74], 'k', pct=6)
add_data(5, k_q_k_hi, k_R_k_hi, 'k', k_up_k_hi, k_dn_k_hi)
add_fit(5, k_q_fit, k_fit_k, 'k')
add_data(5, k_q_fit_g[:66], k_fit_g[:66], 'g', pct=6)
add_data(5, k_q_g_hi, k_R_g_hi, 'g', k_up_g_hi, k_dn_g_hi)
add_fit(5, k_q_fit_g, k_fit_g, 'g')

# (l)
add_data(6, l_q_fit[:64], l_fit_b[:64], 'b', pct=6)
add_data(6, l_q_b_hi, l_R_b_hi, 'b', l_up_b_hi, l_dn_b_hi)
add_fit(6, l_q_fit, l_fit_b, 'b')
add_data(6, l_q_fit_r, l_fit_r, 'r', pct=6)
add_fit(6, l_q_fit_r, l_fit_r, 'r')
add_data(6, l_q_fit[:64], l_fit_k[:64], 'k', pct=6)
add_data(6, l_q_k_hi, l_R_k_hi, 'k', l_up_k_hi, l_dn_k_hi)
add_fit(6, l_q_fit, l_fit_k, 'k')

# ----------------------------------------------------------------- axes layout
PANELS = [
    (1, (54, 572), (7, 386), (-0.0039, 0.2108), (-7.16, 0.40), False, '(g)'),
    (2, (621, 1136), (7, 386), (-0.0037, 0.2087), (-7.33, 0.41), True, '(h)'),
    (3, (54, 570), (478, 856), (-0.0037, 0.2069), (-6.57, 0.37), False, '(i)'),
    (4, (621, 1136), (478, 856), (-0.0037, 0.2087), (-7.62, 0.40), True, '(j)'),
    (5, (54, 572), (948, 1326), (-0.0039, 0.2108), (-7.48, 0.42), False, '(k)'),
    (6, (621, 1136), (948, 1326), (-0.0037, 0.2087), (-7.48, 0.42), True, '(l)'),
]
FRAME = '#bcbcbc'
TICKFONT = dict(family='DejaVu Sans', size=12, color='black')
minor_vals = [m * 10.0 ** e for e in range(-8, 1) for m in range(2, 10)]

shapes = []
annotations = []
layout = dict(width=W, height=H, margin=dict(l=0, r=0, t=0, b=0, pad=0), autosize=False,
              paper_bgcolor='white', plot_bgcolor='white', showlegend=False)


def note(x, y, text, size=11, family='DejaVu Sans', angle=0, xanchor='center'):
    annotations.append(dict(x=px(x), y=py(y), xref='paper', yref='paper', text=text,
                            textangle=angle, showarrow=False, xanchor=xanchor, yanchor='middle',
                            font=dict(family=family, size=size, color='black')))


for i, (x0, x1), (y0, y1), xr, yr, right, lab in PANELS:
    xk = 'xaxis' if i == 1 else f'xaxis{i}'
    yk = 'yaxis' if i == 1 else f'yaxis{i}'
    xa, ya = axn(i)
    layout[xk] = dict(domain=[px(x0), px(x1)], range=list(xr), anchor=ya, automargin=False,
                      tickvals=x_ticks, ticktext=x_ticktext, ticks='outside', ticklen=3.5,
                      ticklabelstandoff=-4,
                      tickcolor=FRAME, showline=True, linecolor=FRAME, linewidth=1.5,
                      mirror=True, showgrid=False, zeroline=False, tickfont=TICKFONT)
    layout[yk] = dict(domain=[py(y1), py(y0)], range=list(yr), type='log', anchor=xa,
                      automargin=False, ticklabelstandoff=-3,
                      tickvals=y_ticks, ticktext=y_ticktext, ticks='outside', ticklen=3.5,
                      tickcolor=FRAME, showline=True, linecolor=FRAME, linewidth=1.5,
                      mirror=not right, showgrid=False, zeroline=False, tickfont=TICKFONT,
                      minor=dict(tickvals=minor_vals, ticks='outside', ticklen=2,
                                 tickcolor=FRAME, showgrid=False))
    note(x0 - 38, (y0 + y1) / 2, 'Reflectivity', angle=-90)
    note((x0 + x1) / 2 if not right else 878, y1 + 24, 'q (Å<sup>−</sup>1)')
    note(291 if not right else 858, y1 + 67, '<b>' + lab + '</b>', size=27,
         family='Liberation Serif')


def add_legend(box, rows, sx, lx0, lx1, tx, entries):
    x0, y0, x1, y1 = box
    r = 3
    path = (f"M {px(x0 + r)},{py(y0)} L {px(x1 - r)},{py(y0)} Q {px(x1)},{py(y0)} {px(x1)},{py(y0 + r)} "
            f"L {px(x1)},{py(y1 - r)} Q {px(x1)},{py(y1)} {px(x1 - r)},{py(y1)} "
            f"L {px(x0 + r)},{py(y1)} Q {px(x0)},{py(y1)} {px(x0)},{py(y1 - r)} "
            f"L {px(x0)},{py(y0 + r)} Q {px(x0)},{py(y0)} {px(x0 + r)},{py(y0)} Z")
    shapes.append(dict(type='path', path=path, xref='paper', yref='paper',
                       line=dict(color='#dcdcdc', width=1), fillcolor='rgba(255,255,255,0.85)',
                       layer='above'))
    for (kind, c, text), ry in zip(entries, rows):
        if kind == 'err':
            shapes.append(dict(type='line', xref='paper', yref='paper', x0=px(sx), x1=px(sx),
                               y0=py(ry - 5), y1=py(ry + 5), line=dict(color=ECOL[c], width=1.5),
                               layer='above'))
            shapes.append(dict(type='circle', xref='paper', yref='paper', x0=px(sx - 1.3),
                               x1=px(sx + 1.3), y0=py(ry + 1.3), y1=py(ry - 1.3),
                               fillcolor=MCOL[c], line=dict(width=0), layer='above'))
        else:
            shapes.append(dict(type='line', xref='paper', yref='paper', x0=px(lx0), x1=px(lx1),
                               y0=py(ry), y1=py(ry), line=dict(color=LCOL[c], width=1.3),
                               layer='above'))
        note(tx, ry, text, xanchor='left')


rows4 = [22, 38.5, 55, 71.5]
add_legend((425, 12, 566, 83), rows4, 441, 429, 453, 462,
           [('err', 'b', '50K ++'), ('line', 'b', '50K ++ Model 2 L'),
            ('err', 'r', '50K −−'), ('line', 'r', '50K −− Model 2 L')])
add_legend((987, 12, 1134, 83), rows4, 1001, 990, 1013, 1022,
           [('err', 'b', '300K ++'), ('line', 'b', '300K ++ Model 2 L'),
            ('err', 'r', '300K −−'), ('line', 'r', '300K −− Model 2 L')])
add_legend((392, 484, 564, 620), [493, 510, 527, 543, 560, 576, 593, 610], 408, 397, 419, 428,
           [('err', 'b', '2K 0.25T ++'), ('line', 'b', '2K, 0.25T ++ Model 2 L'),
            ('err', 'r', '2K 0.25T −−'), ('line', 'r', '2K 0.25T−− Model 2 L'),
            ('err', 'g', '2K ++'), ('line', 'g', '2K 1T ++ Model 2 L'),
            ('err', 'k', '2K −−'), ('line', 'k', '2K 1T −− Model 2 L')])
add_legend((983, 483, 1128, 587), [493, 510, 527, 543, 560, 576], 998, 987, 1009, 1019,
           [('err', 'b', '20K ++'), ('line', 'b', '20K ++ Model 2 L'),
            ('err', 'r', '50K ++'), ('line', 'r', '50K, ++ Model 2 L'),
            ('err', 'k', '300K ++'), ('line', 'k', '300K, ++ Model 2 L')])
add_legend((425, 953, 567, 1091), [963, 980, 997, 1013, 1030, 1046, 1063, 1080], 441, 430, 452, 462,
           [('err', 'b', '2K −−'), ('line', 'b', '2K −− Model 2 L'),
            ('err', 'r', '8K −−'), ('line', 'r', '8K −− Model 2 L'),
            ('err', 'k', '12K −−'), ('line', 'k', '12K −− Model 2 L'),
            ('err', 'g', '20K −−'), ('line', 'g', '20K −− Model 2 L')])
add_legend((962, 953, 1134, 1057), [963, 980, 997, 1013, 1030, 1046], 976, 965, 988, 996,
           [('err', 'b', '2K −−'), ('line', 'b', '2K −− Model 2 L'),
            ('err', 'r', '8K −−'), ('line', 'r', '2K, 0.25T −− Model 2 L'),
            ('err', 'k', '12K −−'), ('line', 'k', '2K, 1T −− Model 2 L')])

layout['shapes'] = shapes
layout['annotations'] = annotations
fig.update_layout(**layout)
fig.write_html("out.html")
